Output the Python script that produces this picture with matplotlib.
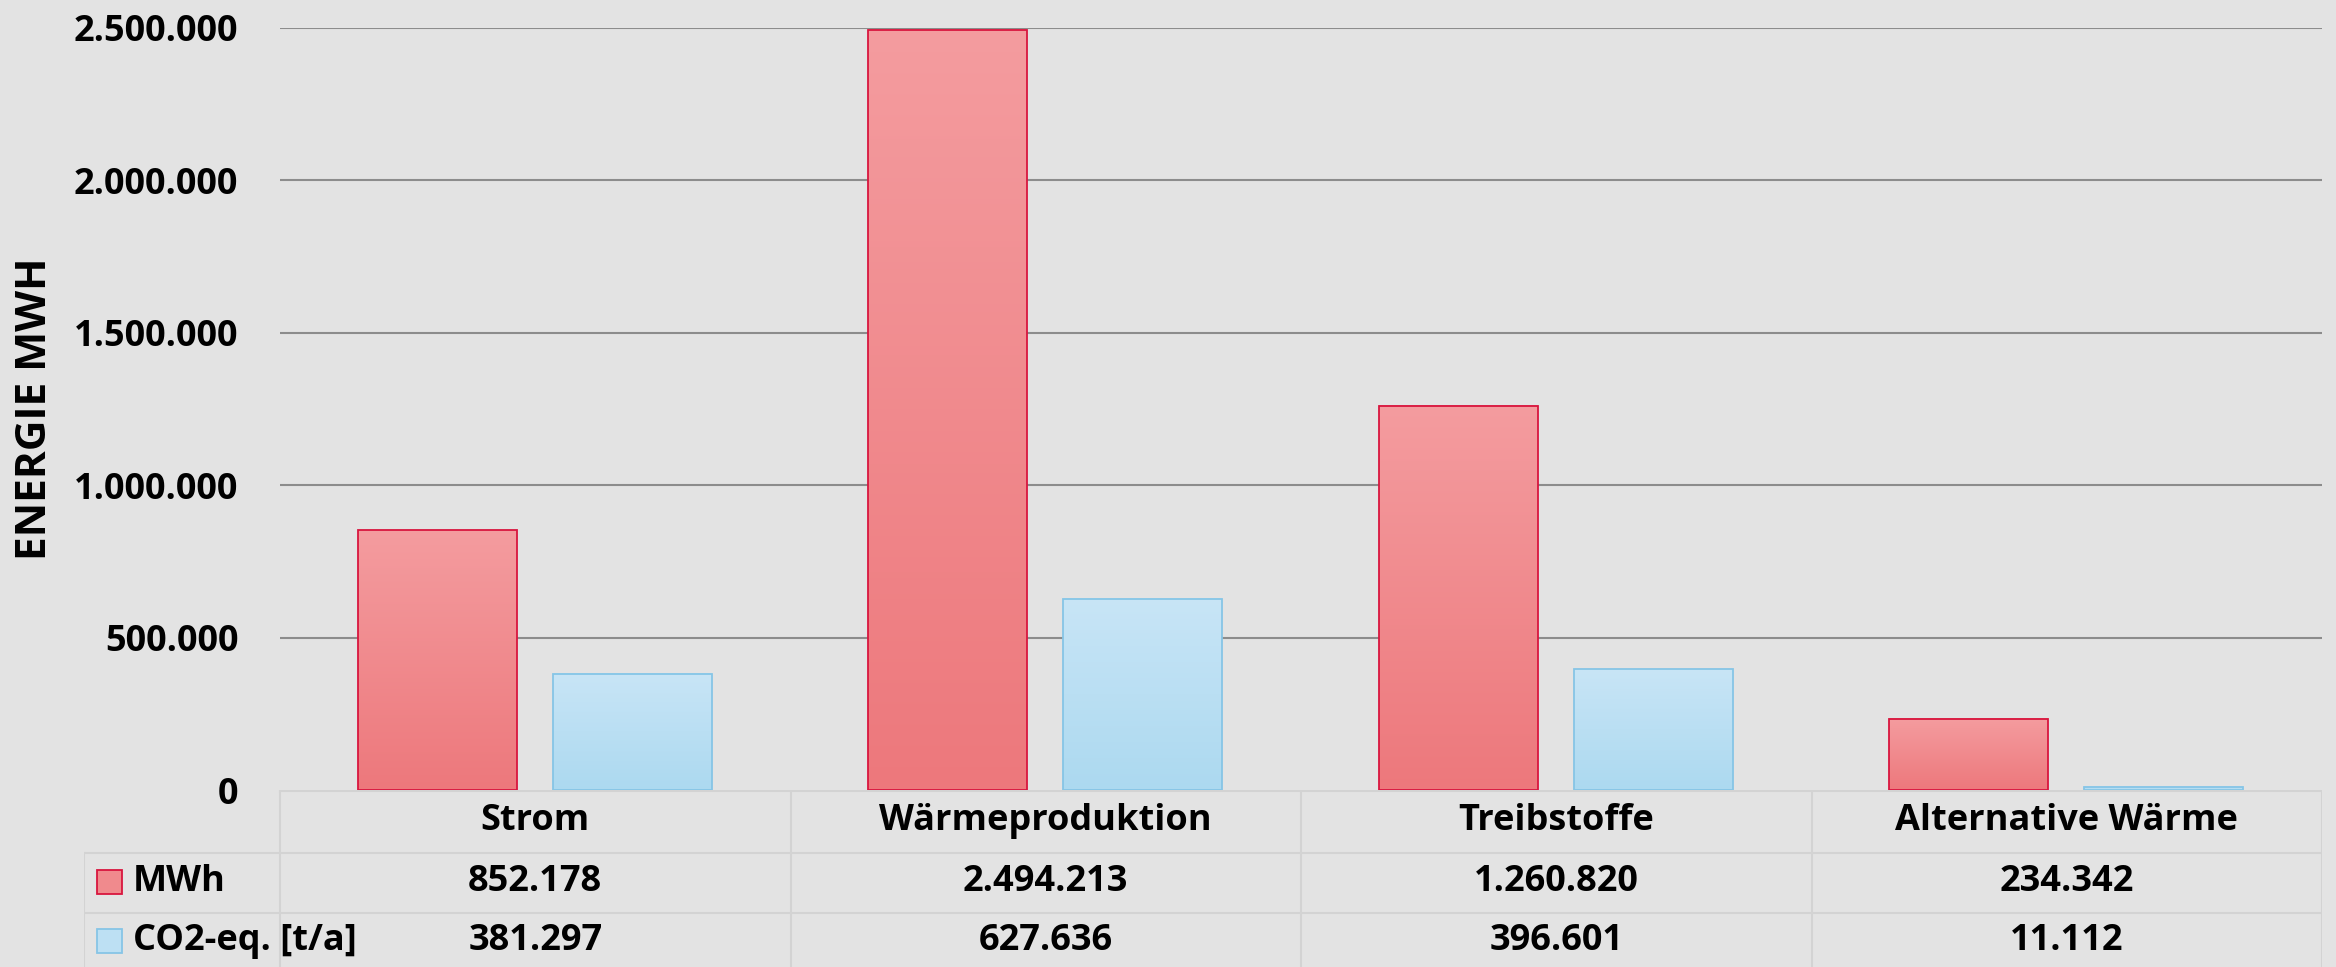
"""Energy (MWh) and CO2-eq. per sector, bar chart with data table below."""

import numpy as np
import matplotlib.pyplot as plt
from matplotlib.patches import Rectangle
from matplotlib.lines import Line2D
from matplotlib.colors import to_rgb

plt.rcParams['font.family'] = ['Open Sans', 'DejaVu Sans']

categories = ["Strom", "Wärmeproduktion", "Treibstoffe", "Alternative Wärme"]
mwh = [852178, 2494213, 1260820, 234342]
co2 = [381297, 627636, 396601, 11112]
series_labels = ["MWh", "CO2-eq. [t/a]"]
y_ticks = [0, 500000, 1000000, 1500000, 2000000, 2500000]

BG = '#e3e3e3'
GRID = '#8c8c8c'
TABLE_LINE = '#d3d3d3'
RED_TOP, RED_BOTTOM, RED_EDGE = '#f49c9f', '#ed787c', '#d8153e'
BLUE_TOP, BLUE_BOTTOM, BLUE_EDGE = '#c8e5f6', '#acd9f0', '#86c5e6'

W, H = 2336, 967
FS = 26
FW = 'bold'


def fmt_de(v):
    return f"{v:,.0f}".replace(",", ".")


def gradient_bars(ax, x, heights, width, top, bottom, edge):
    bars = ax.bar(x, heights, width, facecolor='none', edgecolor=edge,
                  linewidth=1.3, zorder=3)
    grad = np.linspace(0, 1, 256)[:, None, None]
    img = (1 - grad) * np.array(to_rgb(top)) + grad * np.array(to_rgb(bottom))
    for b in bars:
        x0, w, h = b.get_x(), b.get_width(), b.get_height()
        ax.imshow(img, extent=[x0, x0 + w, 0, h], origin='upper',
                  aspect='auto', zorder=2, interpolation='bilinear')
    return bars


fig = plt.figure(figsize=(W / 100, H / 100), dpi=100, facecolor=BG)

ax_left, ax_right, ax_top, ax_bottom = 280, 2322, 28, 790
ax = fig.add_axes([ax_left / W, (H - ax_bottom) / H,
                   (ax_right - ax_left) / W, (ax_bottom - ax_top) / H])
ax.set_facecolor(BG)

x = np.arange(len(categories))
bar_w = 0.311
gradient_bars(ax, x - 0.192, mwh, bar_w, RED_TOP, RED_BOTTOM, RED_EDGE)
gradient_bars(ax, x + 0.190, co2, bar_w, BLUE_TOP, BLUE_BOTTOM, BLUE_EDGE)

ax.set_xlim(-0.5, 3.5)
ax.set_ylim(0, 2500000)
ax.set_yticks(y_ticks)
ax.set_yticklabels([fmt_de(v) for v in y_ticks], fontsize=FS, fontweight=FW)
ax.tick_params(axis='y', length=0, pad=30)
ax.set_xticks([])
ax.set_axisbelow(True)
ax.yaxis.grid(True, color=GRID, linewidth=1.5)
ax.get_ygridlines()[0].set_visible(False)
for s in ax.spines.values():
    s.set_visible(False)

fig.text(36 / W, 1 - 409 / H, "ENERGIE MWH", rotation=90, ha='center', va='center',
         fontsize=30.5, fontweight=FW)

# data table under the chart, x in category units, y in pixels from axes bottom
tab_left = 84
px_per_cat = (ax_right - ax_left) / len(categories)
tax = fig.add_axes([tab_left / W, 0, (ax_right - tab_left) / W, (H - ax_bottom) / H])
tax.set_xlim(-0.5 - (ax_left - tab_left) / px_per_cat, 3.5)
tax.set_ylim(H - ax_bottom, 0)
tax.axis('off')
tax.patch.set_visible(False)
xl = tax.get_xlim()[0]

lw = 1.5
tax.add_line(Line2D([-0.5, 3.5], [1, 1], color=TABLE_LINE, lw=lw))
for yy in [63, 123]:
    tax.add_line(Line2D([xl, 3.5], [yy, yy], color=TABLE_LINE, lw=lw))
for xx in [-0.5, 0.5, 1.5, 2.5, 3.5]:
    tax.add_line(Line2D([xx, xx], [1, 200], color=TABLE_LINE, lw=lw))
tax.add_line(Line2D([xl, xl], [63, 200], color=TABLE_LINE, lw=lw))

for i, cat in enumerate(categories):
    tax.text(i, 31, cat, ha='center', va='center', fontsize=FS, fontweight=FW)
    tax.text(i, 92, fmt_de(mwh[i]), ha='center', va='center', fontsize=FS,
             fontweight=FW)
    tax.text(i, 151, fmt_de(co2[i]), ha='center', va='center', fontsize=FS,
             fontweight=FW)

sw_x = xl + (97 - tab_left) / px_per_cat
sw_w = 25 / px_per_cat
txt_x = xl + (133 - tab_left) / px_per_cat
for yc, lab, fc, ec in [(92, series_labels[0], '#f08a8d', RED_EDGE),
                        (151, series_labels[1], '#bde0f3', BLUE_EDGE)]:
    tax.add_patch(Rectangle((sw_x, yc - 12), sw_w, 24, facecolor=fc, edgecolor=ec,
                            linewidth=1.3))
    tax.text(txt_x, yc, lab, ha='left', va='center', fontsize=FS, fontweight=FW)

fig.savefig("out.png", dpi=100, facecolor=BG)
